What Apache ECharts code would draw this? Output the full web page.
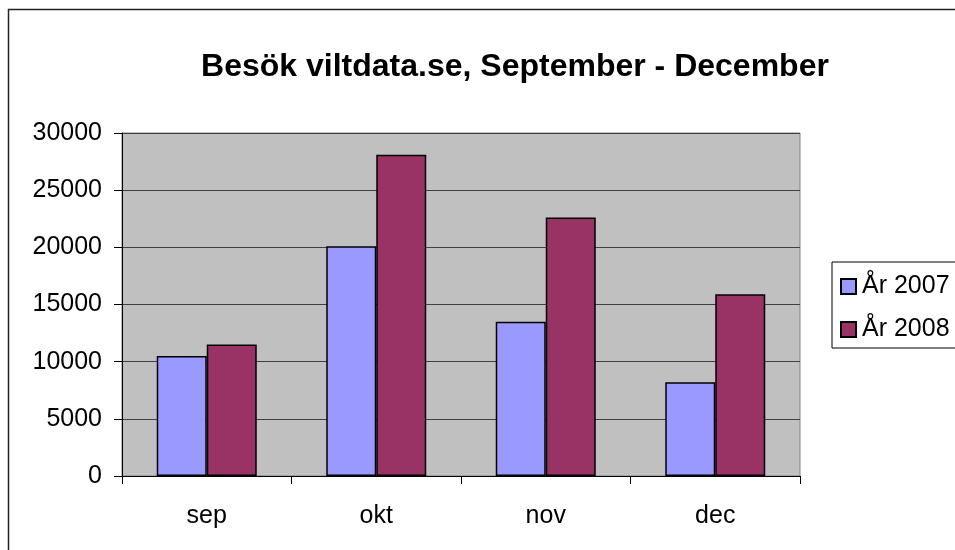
<!DOCTYPE html>
<html lang="sv">
<head>
    <meta charset="UTF-8">
    <script src="https://cdn.jsdelivr.net/npm/echarts@6/dist/echarts.min.js"></script>
    <title>Besök viltdata.se</title>
    <style>
        body { margin: 0; background: #fff; }
    </style>
</head>
<body>
    <div id="main" style="width: 955px;height:550px;"></div>

    <script type="text/javascript">
        // data
        var months = ['sep', 'okt', 'nov', 'dec'];
        var seriesNames = ['År 2007', 'År 2008'];
        var visits2007 = [10500, 20100, 13500, 8200];
        var visits2008 = [11500, 28100, 22600, 15900];
        var yTicks = { min: 0, max: 30000, interval: 5000 };

        var font = 'Liberation Sans, Arial, sans-serif';
        var myChart = echarts.init(document.getElementById('main'));

        myChart.setOption({
            backgroundColor: '#fff',
            animation: false,
            title: {
                text: 'Besök viltdata.se, September - December',
                left: 515,
                top: 51,
                padding: 0,
                textAlign: 'center',
                textStyle: { fontFamily: font, fontSize: 32, fontWeight: 'bold', color: '#000' }
            },
            // outer chart border, runs off the right/bottom edge like the original
            graphic: [{
                type: 'rect',
                shape: { x: 8.5, y: 9.5, width: 1100, height: 700 },
                style: { fill: 'none', stroke: '#222', lineWidth: 1.5 },
                silent: true
            }],
            legend: {
                data: seriesNames,
                orient: 'vertical',
                left: 832,
                top: 262,
                padding: [12, 30, 6, 8],
                itemGap: 18,
                itemWidth: 15,
                itemHeight: 15,
                icon: 'rect',
                borderColor: '#000',
                borderWidth: 1,
                textStyle: { fontFamily: font, fontSize: 25, color: '#000', padding: [0, 0, 0, 1] }
            },
            grid: {
                left: 122,
                right: 155,
                top: 133,
                bottom: 74,
                show: true,
                backgroundColor: '#C0C0C0',
                borderColor: '#808080',
                borderWidth: 1
            },
            xAxis: {
                type: 'category',
                data: months,
                axisLine: { lineStyle: { color: '#000', width: 1 } },
                axisTick: { show: true, length: 8, lineStyle: { color: '#000' } },
                axisLabel: { margin: 28, fontFamily: font, fontSize: 25, color: '#000' }
            },
            yAxis: {
                type: 'value',
                min: yTicks.min,
                max: yTicks.max,
                interval: yTicks.interval,
                axisLine: { show: true, lineStyle: { color: '#000', width: 1 } },
                axisTick: { show: true, length: 8, lineStyle: { color: '#000' } },
                axisLabel: {
                    margin: 20, fontFamily: font, fontSize: 25, color: '#000',
                    formatter: function (v) { return String(v); }
                },
                splitLine: { show: true, lineStyle: { color: '#404040', width: 1 } }
            },
            series: [{
                name: seriesNames[0],
                type: 'bar',
                data: visits2007,
                barGap: '0%',
                barCategoryGap: '41%',
                itemStyle: { color: '#9999FF', borderColor: '#000', borderWidth: 1.5 }
            }, {
                name: seriesNames[1],
                type: 'bar',
                data: visits2008,
                barGap: '0%',
                barCategoryGap: '41%',
                itemStyle: { color: '#993366', borderColor: '#000', borderWidth: 1.5 }
            }]
        });
    </script>
</body>
</html>
